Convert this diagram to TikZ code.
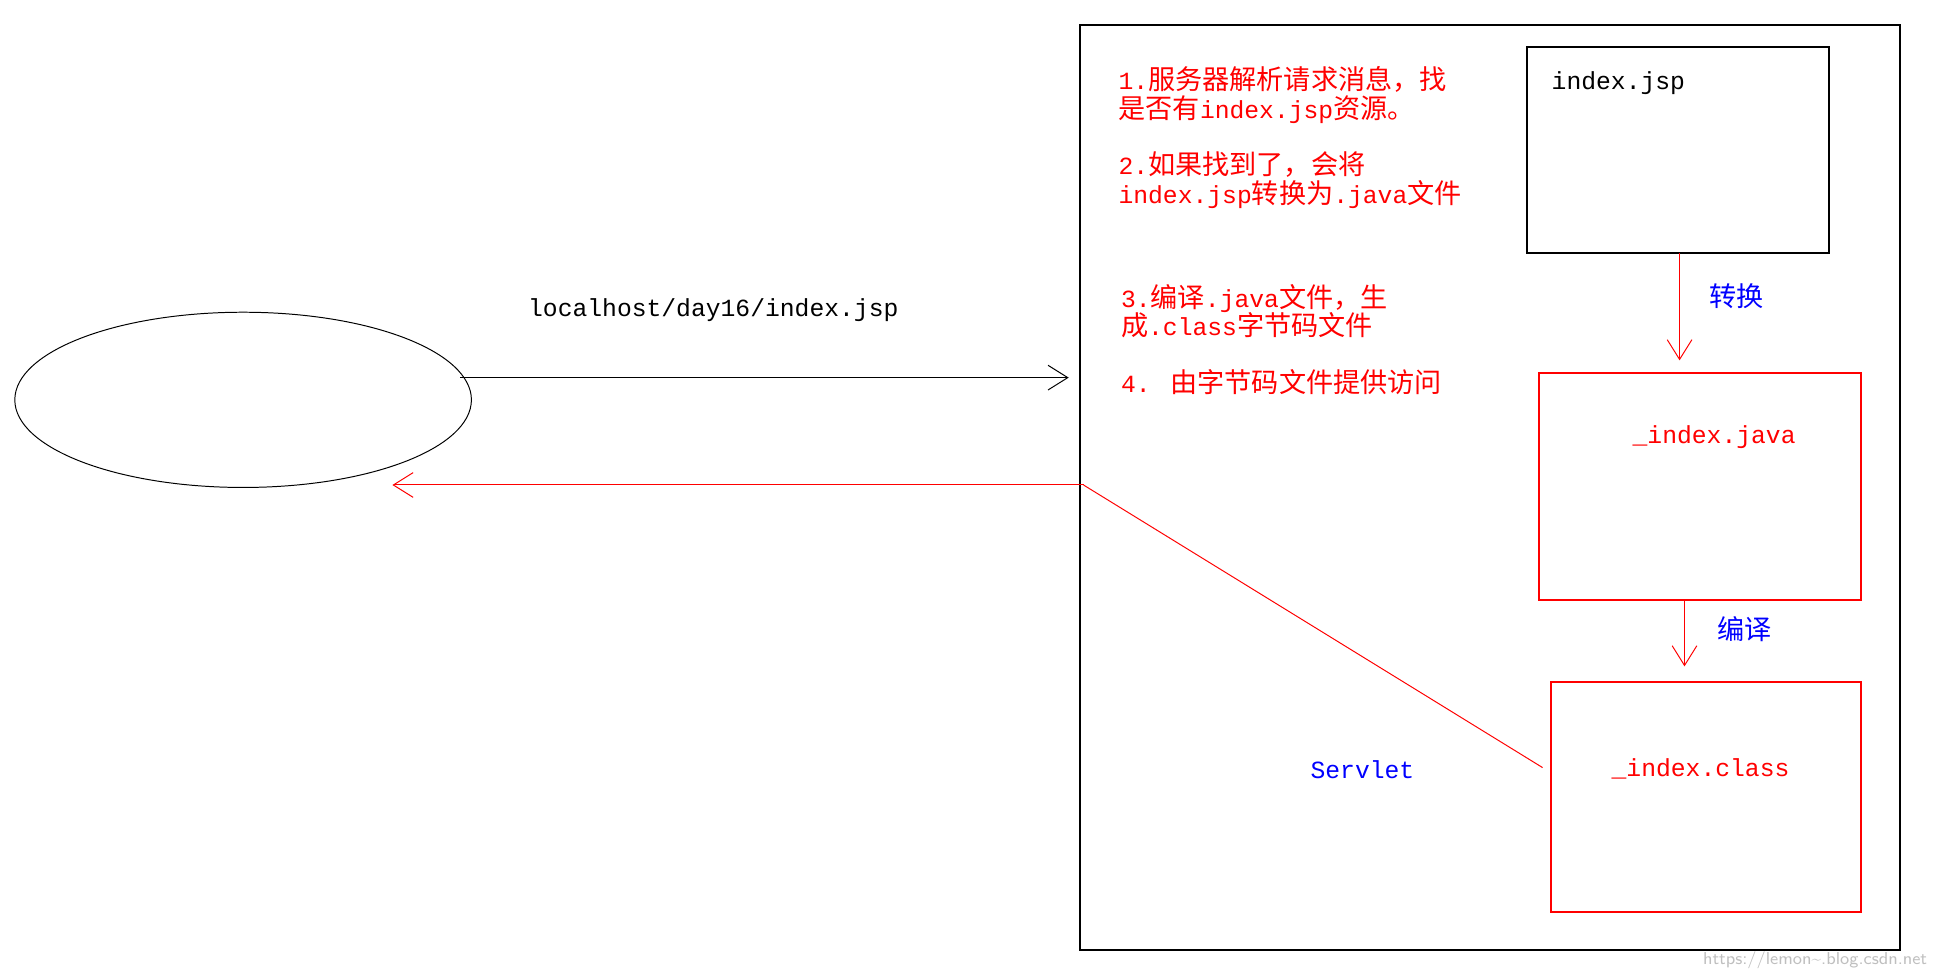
\documentclass[tikz,border=0pt]{standalone}
\usepackage{fontspec}
\setmainfont{Liberation Mono}
\newfontfamily\cjk{Noto Sans CJK SC}
\usetikzlibrary{arrows.meta,shapes.geometric}
\newcommand{\C}[1]{{\cjk\fontsize{11pt}{12pt}\selectfont #1}}
\begin{document}
\begin{tikzpicture}[x=0.5pt,y=-0.5pt,
  txt/.style={font=\fontsize{10pt}{12pt}\selectfont,inner sep=0pt},
  rtxt/.style={txt,text=red,anchor=west,align=left},
  arr/.style={-{Straight Barb[length=8pt,width=10pt]}},
  redbox/.style={draw=red,line width=0.8pt},
  blk/.style={draw=black,line width=0.8pt}]
\useasboundingbox (0,0) rectangle (1568,793);
\node[draw,ellipse,minimum width=185pt,minimum height=71pt,inner sep=0] (br) at (197,324) {};
\draw[blk] (875,20) rectangle (1540,770);
\coordinate (req) at (373,306);
\coordinate (reqend) at (866,306);
\draw[arr] (req) -- (reqend);
\node[txt] (url) at (578,251) {localhost/day16/index.jsp};
\coordinate (resp) at (878,393);
\coordinate (respend) at (318,393);
\draw[arr,red] (resp) -- (respend);
\node[redbox,minimum width=125.5pt,minimum height=93pt,inner sep=0] (cls) at (1382.5,646) {};
\draw[red] (resp) -- (1250,622);
\node[blk,minimum width=122.5pt,minimum height=83.5pt,inner sep=0] (jsp) at (1359.5,121.5) {};
\node[txt,anchor=west] at (1257,67) {index.jsp};
\node[redbox,minimum width=130.5pt,minimum height=92pt,inner sep=0] (jav) at (1377.5,394) {};
\node[txt,text=red] at (1389,354) {\_index.java};
\node[txt,text=red] at (1378,623) {\_index.class};
\draw[arr,red] (1361,205) -- (1361,292);
\draw[arr,red] (1365,486) -- (1365,540);
\node[txt,text=blue] at (1407,240) {\C{转换}};
\node[txt,text=blue] at (1414,510) {\C{编译}};
\node[txt,text=blue] at (1104,624) {Servlet};
\node[rtxt] at (906,77) {1.\C{服务器解析请求消息，找}\\[-0.5pt]\C{是否有}index.jsp\C{资源。}};
\node[rtxt] at (906,146) {2.\C{如果找到了，会将}\\[-0.5pt]index.jsp\C{转换为}.java\C{文件}};
\node[rtxt] at (908,252) {3.\C{编译}.java\C{文件，生}\\[-0.5pt]\C{成}.class\C{字节码文件}};
\node[rtxt] at (908,310) {4. \C{由字节码文件提供访问}};
\node[text=black!25,font=\sffamily\fontsize{7pt}{8pt}\selectfont,anchor=east,inner sep=0] at (1562,778) {https://lemon\textasciitilde.blog.csdn.net};
\end{tikzpicture}
\end{document}
